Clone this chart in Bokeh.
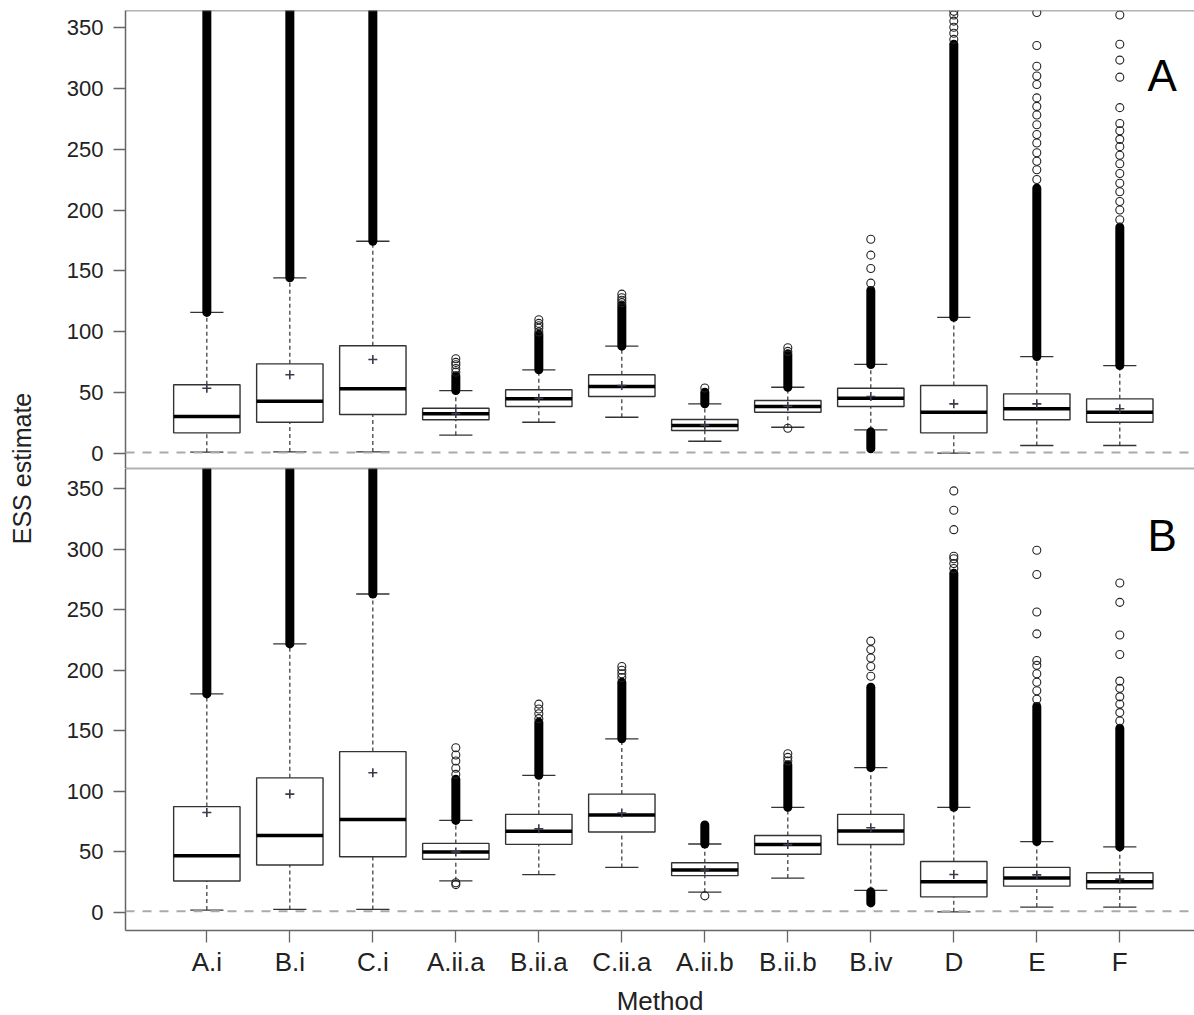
import numpy as np
from bokeh.plotting import figure
from bokeh.layouts import row, column
from bokeh.models import Range1d, FixedTicker, Span, ColumnDataSource
from bokeh.embed import file_html
from bokeh.resources import INLINE
from bokeh.core.properties import value

methods = ["A.i", "B.i", "C.i", "A.ii.a", "B.ii.a", "C.ii.a",
           "A.ii.b", "B.ii.b", "B.iv", "D", "E", "F"]
yticks = [0, 50, 100, 150, 200, 250, 300, 350]
ess_ref = 1

# ---- Panel A ----
A_q1 = [17.2, 25.9, 32.2, 27.9, 38.8, 47.0, 19.1, 34.1, 38.8, 17.2, 27.9, 25.9]
A_med = [30.6, 43.2, 53.3, 32.8, 45.1, 55.2, 23.2, 38.8, 45.6, 34.1, 36.9, 34.1]
A_q3 = [56.6, 73.8, 88.6, 37.4, 52.5, 64.8, 28.1, 43.7, 53.8, 56.0, 49.2, 45.1]
A_mean = [53.8, 64.8, 77.4, 33.0, 45.5, 56.0, 23.5, 39.0, 47.0, 41.0, 41.0, 37.0]
A_wlo = [1.3, 1.5, 1.5, 15.3, 25.9, 30.0, 10.3, 21.8, 19.7, 0.5, 6.8, 6.8]
A_whi = [116.0, 144.4, 174.4, 51.9, 68.9, 88.3, 41.0, 54.6, 73.3, 112.0, 79.8, 72.4]
A_dense_top = [400, 400, 400, 64, 98, 122, 50.5, 82, 134, 336, 218, 186]
A_lowdense = {"B.iv": (4.1, 18.0)}
A_outliers = {
    "A.ii.a": [67, 70, 73, 75, 78],
    "B.ii.a": [100, 103, 105, 107, 110],
    "C.ii.a": [124, 126, 128, 131],
    "A.ii.b": [54],
    "B.ii.b": [21, 84, 87],
    "B.iv": [140, 152, 163, 176],
    "D": [340, 345, 350, 355, 360, 363],
    "E": [225, 233, 240, 247, 255, 262, 270, 278, 285, 292, 303, 310, 318, 335, 362],
    "F": [192, 200, 207, 215, 222, 230, 238, 245, 252, 258, 265, 271, 284, 309,
          323, 336, 360],
}

# ---- Panel B ----
B_q1 = [26.0, 39.2, 46.0, 43.9, 56.2, 66.4, 30.4, 48.0, 56.1, 12.9, 21.7, 19.6]
B_med = [46.8, 63.5, 76.7, 50.0, 67.0, 80.4, 35.1, 56.1, 67.3, 25.4, 28.4, 25.4]
B_q3 = [87.4, 111.1, 132.8, 57.0, 81.0, 97.7, 41.0, 63.5, 81.0, 42.1, 37.2, 32.8]
B_mean = [82.5, 97.7, 115.3, 50.0, 69.0, 82.0, 35.0, 56.0, 69.9, 31.3, 31.0, 27.5]
B_wlo = [2.0, 2.5, 2.5, 26.1, 31.3, 37.2, 16.7, 28.4, 18.2, 0.5, 4.4, 4.4]
B_whi = [180.4, 221.7, 262.9, 76.0, 113.2, 143.3, 56.5, 86.8, 119.6, 86.8, 58.5, 54.1]
B_dense_top = [400, 400, 400, 110, 157, 190, 72.2, 122, 186, 280, 170, 152]
B_lowdense = {"B.iv": (7.9, 17.0)}
B_outliers = {
    "A.ii.a": [23, 24.5, 114, 119, 125, 130, 136],
    "B.ii.a": [160, 164, 168, 172],
    "C.ii.a": [194, 197, 200, 203],
    "A.ii.b": [13.7],
    "B.ii.b": [125, 128, 131],
    "B.iv": [195, 203, 210, 217, 224],
    "D": [284, 288, 292, 294, 316, 332, 348],
    "E": [176, 183, 190, 197, 204, 208, 230, 248, 279, 299],
    "F": [158, 165, 172, 178, 185, 191, 213, 229, 256, 272],
}

FONT = "Liberation Sans"
FRAME_COL = "#666666"
BOX_COL = "#333333"
XPOS = {m: i + 1 for i, m in enumerate(methods)}
BOXW = 0.8
CAPW = 0.4


def make_panel(q1, med, q3, mean, wlo, whi, dense_top, lowdense, outliers,
               yr, fh, letter, letter_y, bottom_axis):
    p = figure(frame_width=1069, frame_height=fh,
               min_border_left=75, min_border_right=0,
               min_border_top=10 if not bottom_axis else 0,
               min_border_bottom=0,
               x_range=Range1d(0.02, 12.9), y_range=Range1d(*yr),
               x_axis_location="below" if bottom_axis else None,
               toolbar_location=None, output_backend="svg",
               outline_line_color=None, background_fill_color="white",
               border_fill_color="white")
    p.grid.grid_line_color = None
    x = [XPOS[m] for m in methods]
    src = ColumnDataSource(dict(
        x=x, x0=[v - BOXW / 2 for v in x], x1=[v + BOXW / 2 for v in x],
        c0=[v - CAPW / 2 for v in x], c1=[v + CAPW / 2 for v in x],
        q1=q1, med=med, q3=q3, mean=mean, wlo=wlo, whi=whi, dtop=dense_top))

    # reference line
    p.add_layout(Span(location=ess_ref, dimension="width", line_color="#aaaaaa",
                      line_width=2, line_dash="9 8"))
    # whiskers
    p.segment("x", "q3", "x", "whi", source=src, line_color=BOX_COL,
              line_width=1.2, line_dash="4 3")
    p.segment("x", "wlo", "x", "q1", source=src, line_color=BOX_COL,
              line_width=1.2, line_dash="4 3")
    # caps
    p.segment("c0", "whi", "c1", "whi", source=src, line_color=BOX_COL, line_width=1.3)
    p.segment("c0", "wlo", "c1", "wlo", source=src, line_color=BOX_COL, line_width=1.3)
    # boxes
    p.quad(left="x0", right="x1", bottom="q1", top="q3", source=src,
           fill_color="white", line_color=BOX_COL, line_width=1.4)
    # medians
    p.segment("x0", "med", "x1", "med", source=src, line_color="black", line_width=3.5)
    # dense outlier bands (upper)
    p.segment("x", "whi", "x", "dtop", source=src, line_color="black",
              line_width=9, line_cap="round")
    # dense outlier bands (lower)
    lx = [XPOS[m] for m in lowdense]
    p.segment(lx, [v[0] for v in lowdense.values()], lx,
              [v[1] for v in lowdense.values()], line_color="black",
              line_width=9, line_cap="round")
    # sparse outliers
    ox, oy = [], []
    for m, vals in outliers.items():
        for v in vals:
            ox.append(XPOS[m])
            oy.append(v)
    p.scatter(ox, oy, marker="circle", size=8, fill_color=None,
              line_color="#222222", line_width=1.1)
    # means
    p.scatter("x", "mean", source=src, marker="cross", size=9,
              line_color="#3a3a4a", line_width=1.6)

    # frame lines
    p.add_layout(Span(location=yr[1], dimension="width", line_color=FRAME_COL, line_width=1.5))
    if not bottom_axis:
        p.add_layout(Span(location=yr[0], dimension="width", line_color=FRAME_COL, line_width=1.5))

    # panel letter
    p.text(x=[12.51], y=[letter_y], text=[letter], text_align="center",
           text_baseline="alphabetic", text_font=value(FONT),
           text_font_size="44px", text_color="black")

    # y axis
    ya = p.yaxis[0]
    ya.ticker = FixedTicker(ticks=yticks)
    ya.axis_line_color = FRAME_COL
    ya.axis_line_width = 1.5
    ya.major_tick_line_color = FRAME_COL
    ya.major_tick_line_width = 1.3
    ya.major_tick_out = 12
    ya.major_tick_in = 0
    ya.minor_tick_line_color = None
    ya.major_label_standoff = 10
    ya.major_label_text_font = FONT
    ya.major_label_text_font_size = "22px"
    ya.major_label_text_color = "#222222"

    if bottom_axis:
        xa = p.xaxis[0]
        xa.ticker = FixedTicker(ticks=list(range(1, 13)))
        xa.major_label_overrides = {i + 1: m for i, m in enumerate(methods)}
        xa.axis_line_color = FRAME_COL
        xa.axis_line_width = 1.5
        xa.major_tick_line_color = FRAME_COL
        xa.major_tick_line_width = 1.3
        xa.major_tick_out = 12
        xa.major_tick_in = 0
        xa.minor_tick_line_color = None
        xa.major_label_standoff = 4
        xa.major_label_text_font = FONT
        xa.major_label_text_font_size = "26px"
        xa.major_label_text_color = "#222222"
        xa.axis_label = "Method"
        xa.axis_label_text_font = FONT
        xa.axis_label_text_font_size = "26px"
        xa.axis_label_text_font_style = "normal"
        xa.axis_label_text_color = "#222222"
        xa.axis_label_standoff = 6
    return p


top = make_panel(A_q1, A_med, A_q3, A_mean, A_wlo, A_whi, A_dense_top, A_lowdense,
                 A_outliers, (-12.06, 363.7), 458, "A", 310.0, False)
bot = make_panel(B_q1, B_med, B_q3, B_mean, B_wlo, B_whi, B_dense_top, B_lowdense,
                 B_outliers, (-14.9, 366.5), 462, "B", 311.5, True)

lab = figure(width=50, height=1015, x_range=Range1d(0, 50), y_range=Range1d(0, 1015),
             min_border=0, toolbar_location=None, output_backend="svg",
             outline_line_color=None, x_axis_location=None, y_axis_location=None)
lab.grid.grid_line_color = None
lab.text(x=[21], y=[1015 - 468], text=["ESS estimate"], angle=np.pi / 2,
         text_align="center", text_baseline="alphabetic", text_font=value(FONT),
         text_font_size="25px", text_color="#222222")

layout = row(lab, column(top, bot))
open("out.html", "w").write(file_html(layout, INLINE))
